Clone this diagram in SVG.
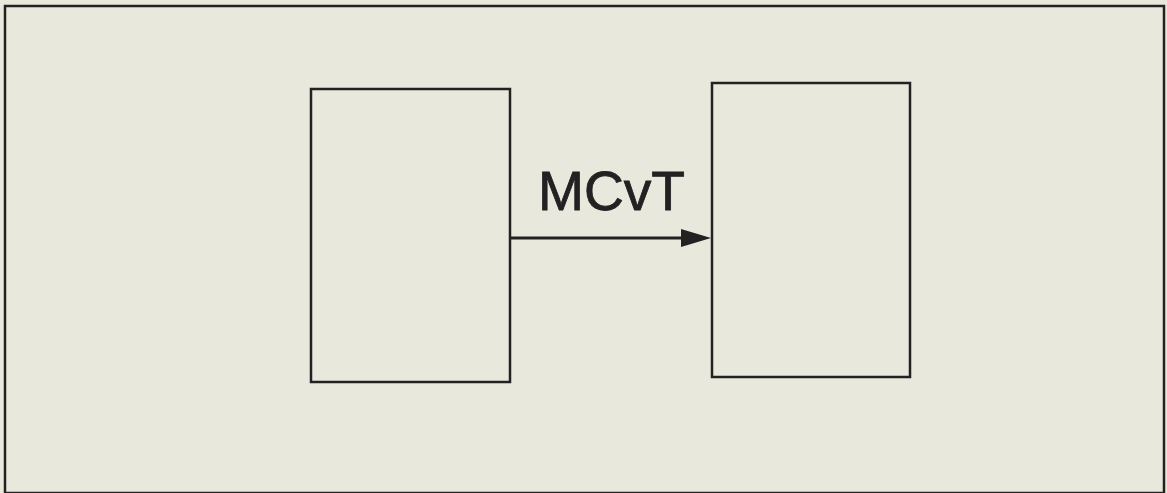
<svg xmlns="http://www.w3.org/2000/svg" width="1167" height="493" viewBox="0 0 1167 493">
<style>
.box{fill:none;stroke:#222;stroke-width:2.5}
.lbl{font-family:"Liberation Sans",Arial,sans-serif;font-size:56px;fill:#222;stroke:#222;stroke-width:0.8}
</style>
<rect x="0" y="0" width="1167" height="493" fill="#e9e8dc"/>
<rect id="frame" x="5" y="6" width="1159" height="487" class="box"/>
<g id="nodeA"><rect x="311" y="89" width="199" height="293" class="box"/></g>
<g id="nodeB"><rect x="712" y="83" width="198" height="294" class="box"/></g>
<g id="connectors">
<line x1="510" y1="238" x2="684" y2="238" stroke="#222" stroke-width="3"/>
<path d="M681,229 L711,238 L681,247 Z" fill="#222"/>
<text x="538" y="210" class="lbl" textLength="147" lengthAdjust="spacingAndGlyphs">MCvT</text>
</g>
</svg>
